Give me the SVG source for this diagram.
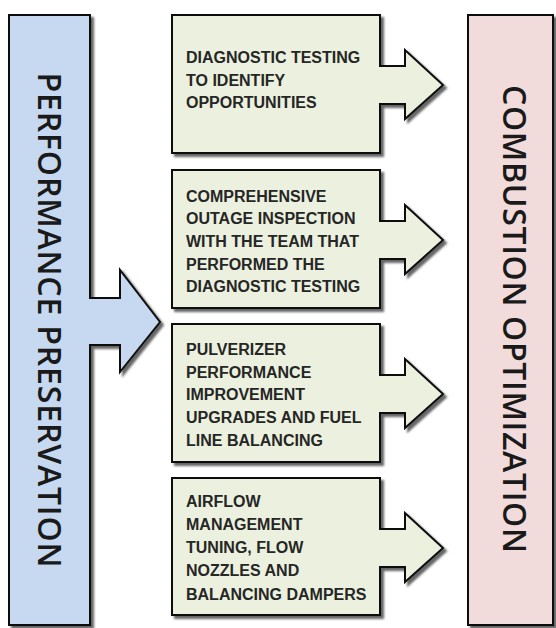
<svg xmlns="http://www.w3.org/2000/svg" width="556" height="628" viewBox="0 0 556 628">
  <defs>
    <filter id="sh" x="-10%" y="-10%" width="130%" height="130%">
      <feDropShadow dx="3" dy="3" stdDeviation="1.3" flood-color="#333" flood-opacity="0.75"/>
    </filter>
  </defs>
  <style>
    .shape { stroke: #111; stroke-width: 2; stroke-linejoin: miter; filter: url(#sh); }
    .blue { fill: #c6d9f0; }
    .green { fill: #ebf1de; }
    .pink { fill: #f2dcdb; }
    .big { font-family: "Open Sans", "Liberation Sans", sans-serif; font-size: 32px; font-weight: 600; fill: #1a1a1a; }
    .lbl { font-family: "Liberation Sans", Arial, sans-serif; font-size: 16px; font-weight: 700; fill: #262626; }
  </style>
  <rect width="556" height="628" fill="#ffffff"/>

  <g id="performance-preservation">
    <path class="shape blue" d="M9,15 H90 V298 H120 V270 L160,322 L120,372 V345 H90 V625 H9 Z"/>
    <text class="big" transform="translate(38,320) rotate(90)" text-anchor="middle" textLength="495" lengthAdjust="spacing">PERFORMANCE PRESERVATION</text>
  </g>

  <g id="combustion-optimization">
    <rect class="shape pink" x="468" y="15" width="85" height="610"/>
    <text class="big" transform="translate(503,319) rotate(90)" text-anchor="middle" textLength="468" lengthAdjust="spacing">COMBUSTION OPTIMIZATION</text>
  </g>

  <g id="diagnostic-testing">
    <path class="shape green" d="M172,15 H380 V66 H405 V50 L443,85 L405,119 V104 H380 V153 H172 Z"/>
    <text class="lbl" x="186" y="63">DIAGNOSTIC TESTING</text>
    <text class="lbl" x="186" y="86">TO IDENTIFY</text>
    <text class="lbl" x="186" y="108">OPPORTUNITIES</text>
  </g>

  <g id="outage-inspection">
    <path class="shape green" d="M172,170 H380 V221 H405 V205 L443,240 L405,274 V259 H380 V308 H172 Z"/>
    <text class="lbl" x="186" y="202">COMPREHENSIVE</text>
    <text class="lbl" x="186" y="224">OUTAGE INSPECTION</text>
    <text class="lbl" x="186" y="247">WITH THE TEAM THAT</text>
    <text class="lbl" x="186" y="270">PERFORMED THE</text>
    <text class="lbl" x="186" y="292">DIAGNOSTIC TESTING</text>
  </g>

  <g id="pulverizer">
    <path class="shape green" d="M172,324 H380 V375 H405 V359 L443,394 L405,428 V413 H380 V462 H172 Z"/>
    <text class="lbl" x="186" y="355">PULVERIZER</text>
    <text class="lbl" x="186" y="378">PERFORMANCE</text>
    <text class="lbl" x="186" y="400">IMPROVEMENT</text>
    <text class="lbl" x="186" y="423">UPGRADES AND FUEL</text>
    <text class="lbl" x="186" y="446">LINE BALANCING</text>
  </g>

  <g id="airflow">
    <path class="shape green" d="M172,478 H380 V529 H405 V513 L443,548 L405,582 V567 H380 V615 H172 Z"/>
    <text class="lbl" x="186" y="507">AIRFLOW</text>
    <text class="lbl" x="186" y="530">MANAGEMENT</text>
    <text class="lbl" x="186" y="553">TUNING, FLOW</text>
    <text class="lbl" x="186" y="576">NOZZLES AND</text>
    <text class="lbl" x="186" y="600">BALANCING DAMPERS</text>
  </g>

  <g id="connectors"></g>
</svg>
